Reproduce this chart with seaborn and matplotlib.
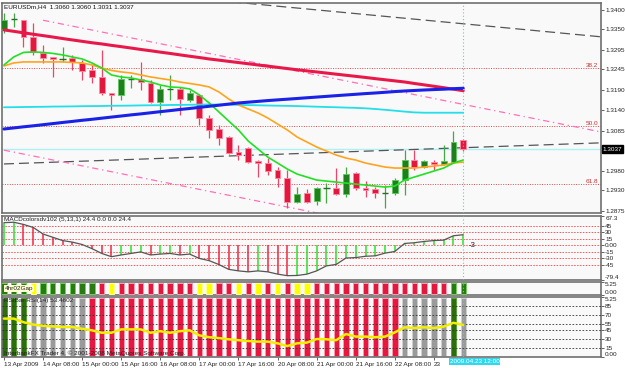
import numpy as np
import matplotlib
matplotlib.use("Agg")
import matplotlib.pyplot as plt
import seaborn as sns

opens = [1.3350, 1.3376, 1.3374, 1.3329, 1.3288, 1.3277, 1.3273, 1.3275, 1.3262, 1.3243,
         1.3225, 1.3183, 1.3178, 1.3220, 1.3220, 1.3209, 1.3160, 1.3194, 1.3194, 1.3165,
         1.3178, 1.3118, 1.3089, 1.3068, 1.3029, 1.3040, 1.3006, 1.3000, 1.2982, 1.2961,
         1.2899, 1.2922, 1.2901, 1.2935, 1.2935, 1.2919, 1.2974, 1.2935, 1.2932, 1.2922,
         1.2922, 1.2956, 1.3008, 1.2990, 1.3003, 1.2998, 1.3003, 1.3060]
highs = [1.3392, 1.3392, 1.3374, 1.3366, 1.3309, 1.3277, 1.3303, 1.3282, 1.3269, 1.3256,
         1.3296, 1.3183, 1.3230, 1.3230, 1.3264, 1.3217, 1.3204, 1.3230, 1.3199, 1.3191,
         1.3181, 1.3126, 1.3100, 1.3070, 1.3047, 1.3042, 1.3008, 1.3013, 1.2990, 1.2982,
         1.2938, 1.2932, 1.2938, 1.2948, 1.2987, 1.2990, 1.2977, 1.2953, 1.2938, 1.2943,
         1.2961, 1.3034, 1.3034, 1.3008, 1.3008, 1.3047, 1.3085, 1.3060]
lows = [1.3340, 1.3356, 1.3303, 1.3282, 1.3262, 1.3225, 1.3264, 1.3243, 1.3217, 1.3209,
        1.3178, 1.3139, 1.3165, 1.3196, 1.3191, 1.3158, 1.3126, 1.3165, 1.3126, 1.3160,
        1.3100, 1.3066, 1.3047, 1.3025, 1.3008, 1.3000, 1.2964, 1.2969, 1.2938, 1.2883,
        1.2896, 1.2896, 1.2891, 1.2896, 1.2917, 1.2912, 1.2930, 1.2912, 1.2909, 1.2883,
        1.2917, 1.2917, 1.2982, 1.2987, 1.2982, 1.2996, 1.3000, 1.3031]
closes = [1.3374, 1.3377, 1.3329, 1.3290, 1.3275, 1.3272, 1.3275, 1.3264, 1.3241, 1.3225,
          1.3183, 1.3178, 1.3220, 1.3221, 1.3212, 1.3160, 1.3194, 1.3195, 1.3168, 1.3183,
          1.3118, 1.3087, 1.3066, 1.3027, 1.3021, 1.3003, 1.3000, 1.2979, 1.2961, 1.2899,
          1.2919, 1.2899, 1.2935, 1.2936, 1.2919, 1.2972, 1.2935, 1.2930, 1.2922, 1.2923,
          1.2956, 1.3008, 1.2990, 1.3006, 1.2998, 1.3006, 1.3055, 1.3037]

# moyennes mobiles
ma_red = [1.33478, 1.33441, 1.33402, 1.33365, 1.33329, 1.33292, 1.33253, 1.33216, 1.33180, 1.33143,
          1.33112, 1.33075, 1.33041, 1.33005, 1.32968, 1.32934, 1.32898, 1.32864, 1.32827, 1.32791,
          1.32757, 1.32720, 1.32689, 1.32657, 1.32626, 1.32595, 1.32563, 1.32532, 1.32501, 1.32469,
          1.32438, 1.32409, 1.32381, 1.32352, 1.32323, 1.32294, 1.32266, 1.32237, 1.32206, 1.32177,
          1.32148, 1.32119, 1.32080, 1.32044, 1.32007, 1.31970, 1.31931, 1.31892]
ma_blue = [1.30892, 1.30920, 1.30949, 1.30975, 1.31004, 1.31033, 1.31062, 1.31090, 1.31119, 1.31145,
           1.31174, 1.31203, 1.31231, 1.31260, 1.31286, 1.31315, 1.31344, 1.31372, 1.31401, 1.31427,
           1.31456, 1.31485, 1.31513, 1.31542, 1.31571, 1.31592, 1.31613, 1.31634, 1.31652, 1.31670,
           1.31688, 1.31707, 1.31725, 1.31743, 1.31762, 1.31780, 1.31798, 1.31816, 1.31832, 1.31850,
           1.31869, 1.31884, 1.31897, 1.31910, 1.31921, 1.31931, 1.31944, 1.31955]
ma_cyan = [1.31459, 1.31461, 1.31466, 1.31469, 1.31472, 1.31477, 1.31479, 1.31482, 1.31487, 1.31490,
           1.31492, 1.31498, 1.31500, 1.31503, 1.31508, 1.31511, 1.31513, 1.31519, 1.31521, 1.31524,
           1.31529, 1.31532, 1.31529, 1.31526, 1.31521, 1.31516, 1.31511, 1.31505, 1.31500, 1.31495,
           1.31490, 1.31482, 1.31474, 1.31466, 1.31459, 1.31451, 1.31443, 1.31432, 1.31414, 1.31393,
           1.31370, 1.31346, 1.31325, 1.31317, 1.31317, 1.31317, 1.31317, 1.31317]
ma_green = [1.32563, 1.32772, 1.32890, 1.32903, 1.32890, 1.32864, 1.32825, 1.32772, 1.32720, 1.32616,
            1.32485, 1.32302, 1.32250, 1.32224, 1.32172, 1.32119, 1.32041, 1.31989, 1.31976, 1.31937,
            1.31780, 1.31571, 1.31336, 1.31101, 1.30866, 1.30578, 1.30369, 1.30160, 1.30004, 1.29847,
            1.29716, 1.29638, 1.29560, 1.29533, 1.29507, 1.29481, 1.29455, 1.29429, 1.29403, 1.29377,
            1.29403, 1.29560, 1.29638, 1.29716, 1.29795, 1.29873, 1.30004, 1.30082]
ma_orange = [1.32537, 1.32616, 1.32642, 1.32642, 1.32642, 1.32642, 1.32642, 1.32629, 1.32616, 1.32563,
             1.32485, 1.32420, 1.32381, 1.32354, 1.32302, 1.32250, 1.32211, 1.32172, 1.32119, 1.32080,
             1.32041, 1.31989, 1.31858, 1.31675, 1.31519, 1.31414, 1.31310, 1.31179, 1.31022, 1.30866,
             1.30683, 1.30552, 1.30422, 1.30317, 1.30213, 1.30134, 1.30082, 1.30004, 1.29951, 1.29899,
             1.29873, 1.29873, 1.29873, 1.29899, 1.29925, 1.29951, 1.30004, 1.30030]

# lignes tracées à la main (indice de barre, prix)
trend_upper = ([20, 61], [1.3429, 1.3330])
trend_lower = ([0, 61], [1.2998, 1.3053])
channel_top = ([4, 61], [1.3373, 1.3082])
channel_bot = ([0, 61], [1.3034, 1.2722])
fibo_levels = [1.32485, 1.30970, 1.29455]
fibo_labels = ["38.2", "50.0", "61.8"]
bid = 1.3037

price_ticks = [1.3400, 1.3350, 1.3295, 1.3245, 1.3190, 1.3140, 1.3085, 1.2980, 1.2930, 1.2875]

# MACD (5,13,1)
macd_vals = [52, 53, 48, 41, 26, 18.5, 11, 7.4, 2, -7.4,
             -18.5, -26, -22, -18.5, -15, -22, -20, -18.5, -22, -20,
             -30, -35, -44, -55, -58.5, -60.7, -58.5, -60.7, -65.9, -69.5,
             -69, -66, -58.5, -47, -43.7, -29, -28, -25, -24, -17.8,
             -14, 4.4, 6, 9, 11, 12, 22, 24.4]
macd_levels = [45, 30, 15, 0, -15, -30, -45]
macd_ticks = [67.3, 45, 30, 15, 0, -15, -30, -45, -79.4]
macd_ticklabels = ["67.3", "45", "30", "15", "0.00", "-15", "-30", "-45", "-79.4"]

# 4hr02Gap : G vert, R rouge, Y jaune
gap_colors = list("GGGYGGGGGGRYRRRRRRRRYYRRYRYRYRYYRRRRRRRRRRRRRRGG")

# RSIBar RSI(14)
rsi_vals = [64, 64, 58, 54, 52, 51, 50, 50, 47, 44.5,
            40.5, 40.5, 46, 46, 46, 40.5, 43, 40.5, 43, 44.5,
            36, 33, 31.5, 29.5, 28, 26.7, 25.6, 25.6, 22.8, 18.3,
            22.8, 24, 30, 29.5, 28, 38.3, 34, 34, 33, 34,
            41, 49.5, 48.3, 49.5, 48.3, 50.6, 57, 53.48]
rsi_colors = list("GGGAAAAAARRRRRRRRRRRRRRRRRRRRRRRRRRRRRRRRAAAAAGA")
rsi_levels = [85, 70, 55, 45, 30, 15]

time_pos = [0, 4, 8, 12, 16, 20, 24, 28, 32, 36, 40, 44]
time_labels = ["13 Apr 2009", "14 Apr 08:00", "15 Apr 00:00", "15 Apr 16:00", "16 Apr 08:00",
               "17 Apr 00:00", "17 Apr 16:00", "20 Apr 08:00", "21 Apr 00:00", "21 Apr 16:00",
               "22 Apr 08:00", "23"]

# ---- style ----
sns.set_style("white")
plt.rcParams["font.family"] = ["Liberation Sans", "DejaVu Sans"]
FS = 4.6
BG = "#f9f9f9"
SPINE = "#707070"
VLINE = "#3cdde0"

x = np.arange(len(opens))
XLIM = (-0.2, 61.1)

fig = plt.figure(figsize=(6.25, 3.68), dpi=100)
fig.patch.set_facecolor("white")
L, W = 2 / 625, 599 / 625
ax = fig.add_axes([L, 1 - 213 / 368, W, 210 / 368])
ax_m = fig.add_axes([L, 1 - 280 / 368, W, 64 / 368])
ax_g = fig.add_axes([L, 1 - 295 / 368, W, 13 / 368])
ax_r = fig.add_axes([L, 1 - 357 / 368, W, 60 / 368])

for a in (ax, ax_m, ax_g, ax_r):
    a.set_facecolor(BG)
    a.set_xlim(*XLIM)
    for s in a.spines.values():
        s.set_color(SPINE)
        s.set_linewidth(1.2)
    a.yaxis.tick_right()
    a.tick_params(axis="y", length=2, width=0.5, pad=1, labelsize=FS, colors="#222222")
    a.tick_params(axis="x", bottom=False, labelbottom=False)
    a.axvline(x[-1], color=VLINE, lw=0.8, ls=(0, (1, 2)), zorder=6)

# ---- panneau principal ----
ax.set_ylim(1.2870, 1.3418)
for lvl, lab in zip(fibo_levels, fibo_labels):
    ax.axhline(lvl, color="#e04848", lw=0.7, ls=(0, (1, 1.5)), zorder=1)
    ax.text(60.8, lvl, lab, color="#d03030", fontsize=FS, ha="right", va="bottom")
ax.axhline(bid, color="#aef0f4", lw=1.0, zorder=1)
ax.plot(*trend_upper, color="#555555", lw=0.9, ls=(0, (8, 4)), zorder=2)
ax.plot(*trend_lower, color="#555555", lw=0.9, ls=(0, (8, 4)), zorder=2)
ax.plot(*channel_top, color="#ff70b8", lw=0.9, ls=(0, (5, 3, 1, 3)), zorder=2)
ax.plot(*channel_bot, color="#ff70b8", lw=0.9, ls=(0, (5, 3, 1, 3)), zorder=2)

for i in x:
    o, h, l, c = opens[i], highs[i], lows[i], closes[i]
    up = c >= o
    wick = "#44a844" if up else "#ee4468"
    ax.vlines(i, l, h, color=wick, lw=0.9, zorder=3)
    if abs(c - o) < 0.00025:
        ax.hlines(o, i - 0.32, i + 0.32, color="#2a6a2a", lw=1.0, zorder=4)
    else:
        ax.bar(i, abs(c - o), bottom=min(o, c), width=0.6,
               color="#1f7f1f" if up else "#e3183f",
               edgecolor="#5cc85c" if up else "#ff8aa2", linewidth=0.6, zorder=4)

sns.lineplot(x=x, y=ma_cyan, ax=ax, color="#22dfe8", lw=1.3, zorder=5)
sns.lineplot(x=x, y=ma_orange, ax=ax, color="#ffa41c", lw=1.2, zorder=5)
sns.lineplot(x=x, y=ma_green, ax=ax, color="#22e022", lw=1.2, zorder=5)
sns.lineplot(x=x, y=ma_red, ax=ax, color="#e8194a", lw=2.2, zorder=5)
sns.lineplot(x=x, y=ma_blue, ax=ax, color="#1a22e6", lw=2.2, zorder=5)

ax.set_yticks(price_ticks)
ax.set_yticklabels([f"{p:.4f}" for p in price_ticks])
ax.text(1.003, bid, f"{bid:.4f}", transform=ax.get_yaxis_transform(), fontsize=FS,
        color="white", va="center", ha="left",
        bbox=dict(facecolor="black", edgecolor="black", pad=0.8), clip_on=False)
ax.text(0.004, 0.993, "EURUSDm,H4  1.3060 1.3060 1.3031 1.3037", transform=ax.transAxes,
        fontsize=FS, va="top", ha="left", color="#111111")

# ---- MACD ----
ax_m.set_ylim(-79.4, 67.3)
for lvl in macd_levels:
    ax_m.axhline(lvl, color="#ff5050", lw=0.7, ls=(0, (1.5, 1.5)), zorder=1)
prev = np.r_[macd_vals[0] - 1, macd_vals[:-1]]
hist_cols = np.where(np.array(macd_vals) >= prev, "#2fe02f", "#ee2a44")
ax_m.vlines(x, 0, macd_vals, colors=hist_cols, lw=1.1, zorder=3)
sns.lineplot(x=x, y=macd_vals, ax=ax_m, color="#555555", lw=0.9, zorder=4)
ax_m.text(47.6, 0, "-3", fontsize=FS + 1, va="center", ha="left", color="#222222")
ax_m.set_yticks(macd_ticks)
ax_m.set_yticklabels(macd_ticklabels)
tl = ax_m.get_yticklabels()
tl[0].set_va("top")
tl[-1].set_va("bottom")
ax_m.text(0.004, 0.98, "MACDcolorsdv102 (5,13,1) 24.4 0.0 0.0 24.4", transform=ax_m.transAxes,
          fontsize=FS, va="top", ha="left", color="#222222")

# ---- 4hr02Gap ----
gmap = {"G": ("#2a7a12", "#6fcf5a"), "R": ("#e3183f", "#ff9aae"), "Y": ("#ffff00", "#ffff99")}
ax_g.set_ylim(0, 1)
for i, cc in zip(x, gap_colors):
    fc, ec = gmap[cc]
    ax_g.bar(i, 0.88, bottom=0.06, width=0.55, color=fc, edgecolor=ec, linewidth=0.7, zorder=3)
ax_g.set_yticks([1, 0])
ax_g.set_yticklabels(["5.25", "0.00"])
gl = ax_g.get_yticklabels()
gl[0].set_va("top")
gl[1].set_va("bottom")
ax_g.text(0.004, 0.5, "4hr02Gap", transform=ax_g.transAxes, fontsize=FS, va="center",
          ha="left", color="#222222", zorder=5,
          bbox=dict(facecolor="#ffffd0", edgecolor="none", pad=0.5))

# ---- RSIBar ----
rmap = {"G": ("#2d6e0c", "#5aa03a"), "R": ("#e8173f", "#ff9aae"), "A": ("#9a9a9a", "#cfcfcf")}
ax_r.set_ylim(0, 100)
for i, cc in zip(x, rsi_colors):
    fc, ec = rmap[cc]
    ax_r.bar(i, 97, bottom=1.5, width=0.55, color=fc, edgecolor=ec, linewidth=0.7, zorder=2)
for lvl in rsi_levels:
    ax_r.axhline(lvl, color="#333333", lw=0.6, ls=(0, (2, 2)), zorder=3)
sns.lineplot(x=x, y=rsi_vals, ax=ax_r, color="#f2ee00", lw=1.8, zorder=4)
ax_r.set_yticks([100] + rsi_levels + [0])
ax_r.set_yticklabels(["5.25"] + [str(v) for v in rsi_levels] + ["0.00"])
rl = ax_r.get_yticklabels()
rl[0].set_va("top")
rl[-1].set_va("bottom")
ax_r.text(0.004, 0.98, "RSIBar RSI(14) 53.4802", transform=ax_r.transAxes, fontsize=FS,
          va="top", ha="left", color="#222222", zorder=5)
ax_r.text(0.004, 0.02, "InterbankFX Trader 4, \u00a9 2001-2008 MetaQuotes Software Corp.",
          transform=ax_r.transAxes, fontsize=FS, va="bottom", ha="left", color="#222222", zorder=5)

ax_r.tick_params(axis="x", bottom=True, labelbottom=True, length=2.5, width=0.5, pad=1,
                 labelsize=FS, colors="#222222")
ax_r.set_xticks(time_pos)
ax_r.set_xticklabels(time_labels)
for t in ax_r.get_xticklabels():
    t.set_ha("left")
# étiquette du curseur, décalée pour laisser "23" lisible
ax_r.text(45.6, -0.03, "2009.04.23 12:00", transform=ax_r.get_xaxis_transform(),
          fontsize=FS, color="white", ha="left", va="top", zorder=7, clip_on=False,
          bbox=dict(facecolor="#30d8ee", edgecolor="none", pad=0.6))

for a in (ax, ax_m, ax_g, ax_r):
    a.set_xlim(*XLIM)
    a.set_xlabel("")
    a.set_ylabel("")

fig.savefig("out.png", dpi=100)
